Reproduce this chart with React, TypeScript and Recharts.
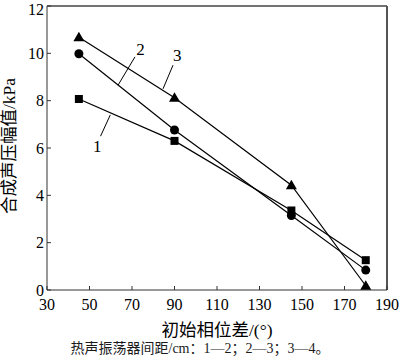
import { LineChart, Line, XAxis, YAxis, ReferenceLine, ReferenceDot } from 'recharts';

const phase = [45, 90, 145, 180];
const spacing12 = [8.07, 6.3, 3.36, 1.26];
const spacing23 = [9.98, 6.76, 3.15, 0.84];
const spacing34 = [10.68, 8.12, 4.43, 0.18];
const xTicks = [30, 50, 70, 90, 110, 130, 150, 170, 190];
const yTicks = [0, 2, 4, 6, 8, 10, 12];

const data = phase.map((p, i) => ({
  phase: p,
  s1: spacing12[i],
  s2: spacing23[i],
  s3: spacing34[i],
}));

// leader lines from the curve numbers to their curves
const leaders = [
  { label: '1', text: { x: 53.6, y: 6.1 }, from: { x: 55.2, y: 6.5 }, to: { x: 59.8, y: 7.4 } },
  { label: '2', text: { x: 74.0, y: 10.2 }, from: { x: 71.4, y: 9.85 }, to: { x: 63.4, y: 8.65 } },
  { label: '3', text: { x: 91.3, y: 9.95 }, from: { x: 89.3, y: 9.5 }, to: { x: 84.6, y: 8.5 } },
];

const serif = "'Liberation Serif', 'Times New Roman', serif";
const cjk = "'Liberation Serif', 'Noto Sans CJK SC', serif";

const Square = (props: any) => {
  const { cx, cy } = props;
  if (cx == null || cy == null) return null;
  return <rect key={`sq-${cx}`} x={cx - 4} y={cy - 4} width={8} height={8} fill="#000" />;
};

const Circle = (props: any) => {
  const { cx, cy } = props;
  if (cx == null || cy == null) return null;
  return <circle key={`ci-${cx}`} cx={cx} cy={cy} r={4.5} fill="#000" />;
};

const Triangle = (props: any) => {
  const { cx, cy } = props;
  if (cx == null || cy == null) return null;
  return (
    <path
      key={`tr-${cx}`}
      d={`M${cx},${cy - 5.5} L${cx + 5.5},${cy + 4} L${cx - 5.5},${cy + 4} Z`}
      fill="#000"
    />
  );
};

// rotated y label, centred on the plot height
const YTitle = (props: any) => {
  const vb = props.viewBox || {};
  const x = 9;
  const y = (vb.y ?? 6) + (vb.height ?? 284) / 2 - 2;
  return (
    <text
      x={x}
      y={y}
      transform={`rotate(-90, ${x}, ${y})`}
      textAnchor="middle"
      dominantBaseline="central"
      fill="#000"
      fontSize={17.5}
      fontFamily={cjk}
    >
      合成声压幅值/kPa
    </text>
  );
};

export default function App() {
  return (
    <div style={{ position: 'absolute', left: 0, top: 0, width: 400, height: 363, background: '#fff' }}>
      <LineChart width={400} height={363} data={data} margin={{ top: 6, right: 13, left: 0, bottom: 23 }}>
        <XAxis
          dataKey="phase"
          type="number"
          domain={[30, 190]}
          ticks={xTicks}
          tickSize={-4}
          tickMargin={13}
          height={50}
          stroke="#333"
          tick={{ fill: '#000', fontSize: 16, fontFamily: serif }}
          label={{
            value: '初始相位差/(°)',
            position: 'insideBottom',
            offset: 4,
            fill: '#000',
            fontSize: 17.5,
            fontFamily: cjk,
          }}
        />
        <YAxis
          type="number"
          domain={[0, 12]}
          ticks={yTicks}
          tickSize={-4}
          tickMargin={7}
          width={47}
          stroke="#333"
          tick={{ fill: '#000', fontSize: 16, fontFamily: serif }}
          label={{ content: YTitle }}
        />
        <ReferenceLine y={12} stroke="#444" strokeWidth={1.5} />
        <ReferenceLine x={190} stroke="#555" strokeWidth={2} />
        {leaders.map((l) => (
          <ReferenceLine key={`ln-${l.label}`} segment={[l.from, l.to]} stroke="#000" strokeWidth={1} />
        ))}
        {leaders.map((l) => (
          <ReferenceDot
            key={`lb-${l.label}`}
            x={l.text.x}
            y={l.text.y}
            r={0}
            stroke="none"
            fill="none"
            label={{ value: l.label, position: 'center', fill: '#000', fontSize: 17, fontFamily: serif }}
          />
        ))}
        <Line dataKey="s1" stroke="#000" strokeWidth={1.2} dot={Square} isAnimationActive={false} />
        <Line dataKey="s2" stroke="#000" strokeWidth={1.2} dot={Circle} isAnimationActive={false} />
        <Line dataKey="s3" stroke="#000" strokeWidth={1.2} dot={Triangle} isAnimationActive={false} />
      </LineChart>
      <div
        style={{
          position: 'absolute',
          left: 0,
          width: 400,
          top: 341,
          textAlign: 'center',
          fontSize: 14,
          lineHeight: '16px',
          fontFamily: cjk,
          color: '#1a1a1a',
        }}
      >
        热声振荡器间距/cm：1—2；2—3；3—4。
      </div>
    </div>
  );
}
